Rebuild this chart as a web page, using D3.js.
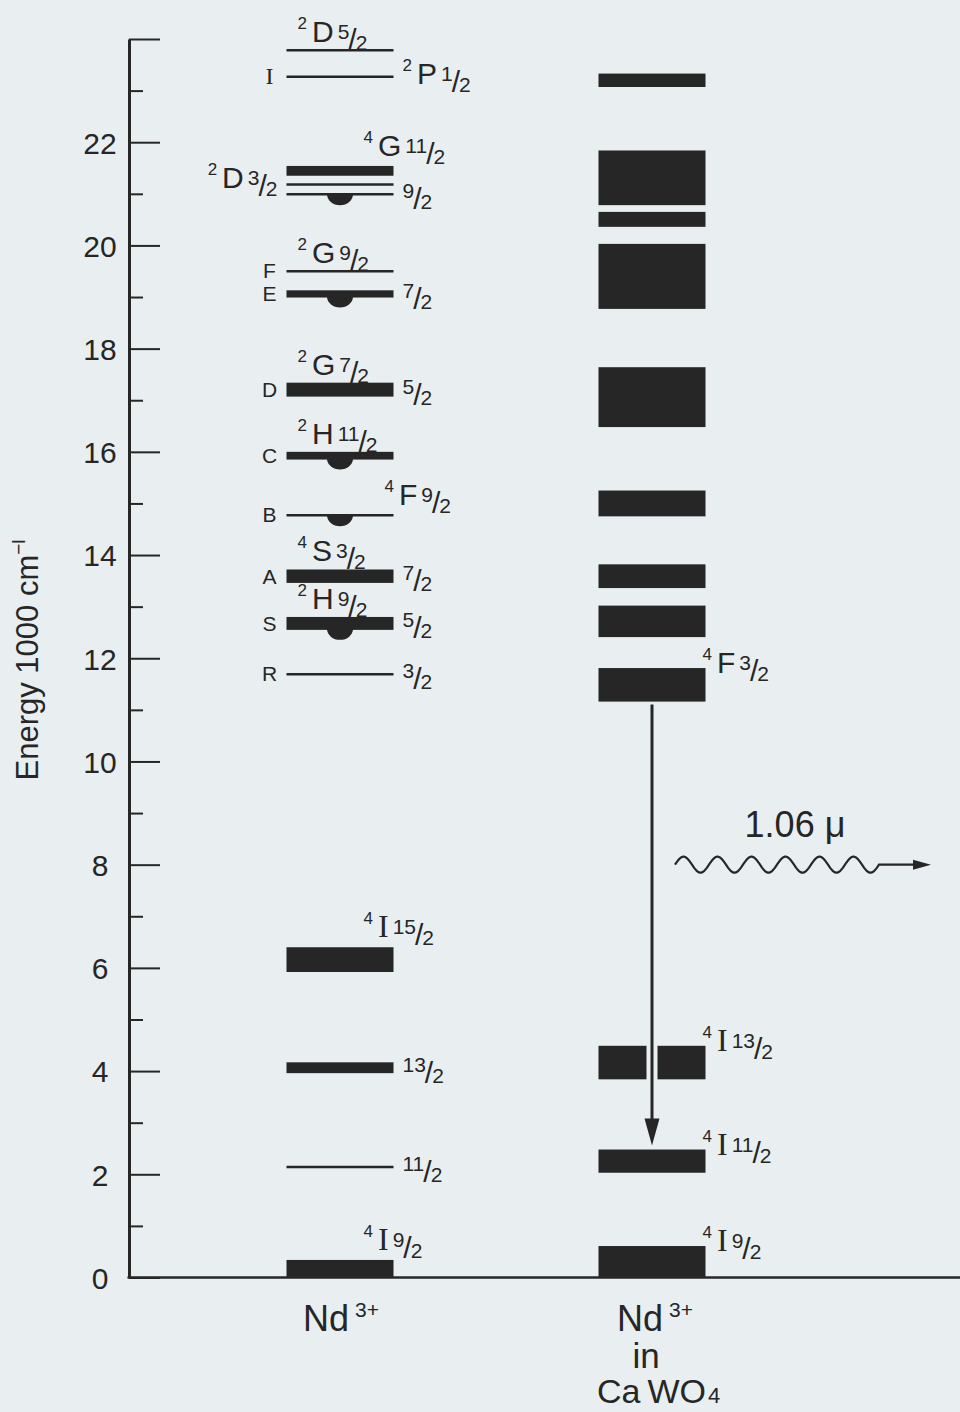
<!DOCTYPE html>
<html>
<head>
<meta charset="utf-8">
<script src="https://d3js.org/d3.v7.min.js"></script>
<style>
  body { margin: 0; background: #e9eff1; }
  text { font-family: "Liberation Sans", Arial, sans-serif; fill: #262626; }
</style>
</head>
<body>
<div id="chart"></div>
<script>
// the two columns of the diagram
var columns = ["Nd3+", "Nd3+ in CaWO4"];

// energy axis, 1000 cm-1
var yTicks = d3.range(0, 25);
var yTickLabels = ["0", "2", "4", "6", "8", "10", "12", "14", "16", "18", "20", "22"];

// free ion levels: low / high edge (1000 cm-1), low == high -> single line
var freeLow  = [23.78, 23.27, 21.35, 21.18, 20.99, 19.50, 18.99, 17.07, 15.85, 14.77, 13.46, 12.55, 11.69, 5.92, 3.96, 2.14, 0];
var freeHigh = [23.78, 23.27, 21.54, 21.18, 20.99, 19.50, 19.13, 17.34, 16.00, 14.77, 13.72, 12.80, 11.69, 6.40, 4.17, 2.14, 0.34];
// strong absorption bumps
var freeDip  = [0, 0, 0, 0, 1, 0, 1, 0, 1, 1, 0, 1, 0, 0, 0, 0, 0];
var freeLetter = ["", "I", "", "", "", "F", "E", "D", "C", "B", "A", "S", "R", "", "", "", ""];

// term labels: [level, multiplicity, L, J, placement]
var freeTerms = [
  [0, "2", "D", "5/2", "above"],
  [1, "2", "P", "1/2", "right"],
  [2, "4", "G", "11/2", "aboveRight"],
  [3, "2", "D", "3/2", "left"],
  [4, "", "", "9/2", "right"],
  [5, "2", "G", "9/2", "above"],
  [6, "", "", "7/2", "right"],
  [7, "2", "G", "7/2", "above"],
  [7, "", "", "5/2", "right"],
  [8, "2", "H", "11/2", "above"],
  [9, "4", "F", "9/2", "upRight"],
  [10, "4", "S", "3/2", "above"],
  [10, "", "", "7/2", "right"],
  [11, "2", "H", "9/2", "above"],
  [11, "", "", "5/2", "right"],
  [12, "", "", "3/2", "right"],
  [13, "4", "I", "15/2", "aboveRight"],
  [14, "", "", "13/2", "right"],
  [15, "", "", "11/2", "right"],
  [16, "4", "I", "9/2", "aboveRight"]
];

// Nd3+ in CaWO4 bands
var crystalLow  = [23.07, 20.78, 20.36, 18.77, 16.48, 14.75, 13.36, 12.41, 11.16, 3.84, 2.03, 0];
var crystalHigh = [23.33, 21.84, 20.65, 20.03, 17.64, 15.25, 13.82, 13.02, 11.81, 4.49, 2.48, 0.61];
var crystalTerms = [
  [8, "4", "F", "3/2", "rightTop"],
  [9, "4", "I", "13/2", "rightTop"],
  [10, "4", "I", "11/2", "rightTop"],
  [11, "4", "I", "9/2", "rightTop"]
];

// laser transition 4F3/2 -> 4I11/2
var laserFrom = 8, laserTo = 10, laserLabel = "1.06 \u03bc", laserWaveE = 8;

var W = 960, H = 1412, ink = "#262626";
var svg = d3.select("#chart").append("svg").attr("width", W).attr("height", H);
svg.append("rect").attr("width", W).attr("height", H).attr("fill", "#e9eff1");

var y = d3.scaleLinear().domain([0, 24]).range([1277.5, 39]);
var x = d3.scalePoint().domain(columns).range([340, 652]);
var half = 53.5;
var axisX = 129;

// y axis, ticks point to the right
var gAxis = svg.append("g")
  .attr("transform", "translate(" + axisX + ",0)")
  .call(d3.axisLeft(y).tickValues(yTicks).tickSize(-31).tickSizeOuter(0)
    .tickFormat(function(d) { return (d % 2 === 0 && d < 24) ? yTickLabels[d / 2] : ""; }));
gAxis.select(".domain").attr("stroke", ink).attr("stroke-width", 3);
gAxis.selectAll(".tick line")
  .attr("stroke", ink).attr("stroke-width", 2)
  .attr("x2", function(d) { return d % 2 ? 14 : 31; });
gAxis.selectAll(".tick text")
  .attr("x", 100 - axisX).attr("dy", "0.36em")
  .attr("text-anchor", "middle").attr("font-size", 30);

// baseline
svg.append("line")
  .attr("x1", axisX - 1.5).attr("x2", W)
  .attr("y1", y(0)).attr("y2", y(0))
  .attr("stroke", ink).attr("stroke-width", 2.5);

// axis title
var yTitle = svg.append("text")
  .attr("transform", "translate(38," + 660 + ") rotate(-90)")
  .attr("text-anchor", "middle").attr("font-size", 31);
yTitle.append("tspan").text("Energy  1000 cm");
yTitle.append("tspan").attr("font-size", 19).attr("dy", -13).text("\u2212l");

function drawLevels(col, lo, hi, gapFrom, gapTo) {
  var cx = x(col);
  var g = svg.append("g");
  lo.forEach(function(l, i) {
    var h = hi[i];
    if (h > l) {
      if (i > gapFrom && i < gapTo) {
        g.append("rect").attr("x", cx - half).attr("y", y(h))
          .attr("width", half - 5.5).attr("height", y(l) - y(h)).attr("fill", ink);
        g.append("rect").attr("x", cx + 5.5).attr("y", y(h))
          .attr("width", half - 5.5).attr("height", y(l) - y(h)).attr("fill", ink);
      } else {
        g.append("rect").attr("x", cx - half).attr("y", y(h))
          .attr("width", 2 * half).attr("height", y(l) - y(h)).attr("fill", ink);
      }
    } else {
      g.append("line").attr("x1", cx - half).attr("x2", cx + half)
        .attr("y1", y(l)).attr("y2", y(l))
        .attr("stroke", ink).attr("stroke-width", 2.5);
    }
  });
  return g;
}

function placeTerm(cx, lo, hi, place) {
  var x0 = cx - half, x1 = cx + half;
  var top = y(hi), bot = y(lo), mid = (top + bot) / 2;
  if (place === "above") return {x: x0 + 11, y: top - 8};
  if (place === "aboveRight") return {x: x1 - 30, y: top - 10};
  if (place === "upRight") return {x: x1 - 9, y: top - 10};
  if (place === "right") return {x: x1 + 9, y: mid + 7};
  if (place === "left") return {x: x0 - 9, y: mid + 3, anchor: "end"};
  return {x: x1 - 3, y: top + 5}; // rightTop
}

function term(g, p, sup, letter, j) {
  var t = g.append("text").attr("x", p.x).attr("y", p.y)
    .attr("text-anchor", p.anchor || "start");
  var cur = 0;
  function span(txt, size, base, dx, serif) {
    var s = t.append("tspan").attr("font-size", size).attr("dy", base - cur).text(txt);
    if (dx) s.attr("dx", dx);
    if (serif) s.style("font-family", "'Liberation Serif', 'DejaVu Serif', serif");
    cur = base;
  }
  if (sup) span(sup, 17, -13, 0);
  if (letter) span(letter, letter === "I" ? 32 : 30, 0, sup ? 5 : 0, letter === "I");
  if (j) {
    var parts = j.split("/");
    span(parts[0], 21, -3, letter ? 4 : 0);
    span("/", 30, 8, -1);
    span(parts[1], 21, 8, -1);
  }
}

// free ion
var gFree = drawLevels(columns[0], freeLow, freeHigh, -1, -1);
var cxFree = x(columns[0]);
freeDip.forEach(function(d, i) {
  if (!d) return;
  var yb = y(freeLow[i]) + (freeHigh[i] > freeLow[i] ? 0 : 1);
  gFree.append("path")
    .attr("d", "M" + (cxFree - 13) + "," + (yb - 1) + " A13,11 0 0 0 " + (cxFree + 13) + "," + (yb - 1) + "Z")
    .attr("fill", ink);
});
freeLetter.forEach(function(l, i) {
  if (!l) return;
  var thin = freeHigh[i] === freeLow[i];
  gFree.append("text")
    .attr("x", cxFree - half - 17)
    .attr("y", y((freeLow[i] + freeHigh[i]) / 2) - (thin ? 1 : 0))
    .attr("dy", "0.35em").attr("text-anchor", "middle")
    .attr("font-size", l === "I" ? 24 : 21)
    .style("font-family", l === "I" ? "'Liberation Serif', serif" : null)
    .text(l);
});
freeTerms.forEach(function(t) {
  term(gFree, placeTerm(cxFree, freeLow[t[0]], freeHigh[t[0]], t[4]), t[1], t[2], t[3]);
});

// crystal
var gCry = drawLevels(columns[1], crystalLow, crystalHigh, laserFrom, laserTo);
var cxCry = x(columns[1]);
crystalTerms.forEach(function(t) {
  term(gCry, placeTerm(cxCry, crystalLow[t[0]], crystalHigh[t[0]], t[4]), t[1], t[2], t[3]);
});

// laser arrow
var yStart = y(crystalLow[laserFrom]) + 3;
var yTip = y(crystalHigh[laserTo]) - 4;
svg.append("line").attr("x1", cxCry).attr("x2", cxCry)
  .attr("y1", yStart).attr("y2", yTip - 20)
  .attr("stroke", ink).attr("stroke-width", 3);
svg.append("path")
  .attr("d", "M" + (cxCry - 7.5) + "," + (yTip - 27) + "L" + (cxCry + 7.5) + "," + (yTip - 27) + "L" + cxCry + "," + yTip + "Z")
  .attr("fill", ink);

// emitted photon
var yw = y(laserWaveE), wx0 = cxCry + 23, lambda = 34, amp = 8;
var wave = d3.range(0, 6 * lambda + 0.5, 1).map(function(dx) {
  return [wx0 + dx, yw - amp * Math.sin(2 * Math.PI * dx / lambda)];
});
wave.push([wx0 + 6 * lambda + 34, yw]);
svg.append("path").attr("d", d3.line()(wave))
  .attr("fill", "none").attr("stroke", ink).attr("stroke-width", 2.2);
var tipX = wx0 + 6 * lambda + 52;
svg.append("path")
  .attr("d", "M" + (tipX - 18) + "," + (yw - 5) + "L" + tipX + "," + yw + "L" + (tipX - 18) + "," + (yw + 5) + "Z")
  .attr("fill", ink);
svg.append("text").attr("x", 795).attr("y", yw - 28)
  .attr("text-anchor", "middle").attr("font-size", 36).text(laserLabel);

// column labels
var base = y(0) + 53;
var l0 = svg.append("text").attr("x", cxFree - 37).attr("y", base).attr("font-size", 36);
l0.append("tspan").text("Nd");
l0.append("tspan").attr("font-size", 21).attr("dx", 6).attr("dy", -14).text("3+");

var l1 = svg.append("text").attr("x", cxCry - 35).attr("y", base).attr("font-size", 36);
l1.append("tspan").text("Nd");
l1.append("tspan").attr("font-size", 21).attr("dx", 6).attr("dy", -14).text("3+");
svg.append("text").attr("x", cxCry - 6).attr("y", base + 37)
  .attr("text-anchor", "middle").attr("font-size", 35).text("in");
var l2 = svg.append("text").attr("x", cxCry - 55).attr("y", base + 72).attr("font-size", 34);
l2.append("tspan").text("Ca");
l2.append("tspan").attr("dx", 7).text("WO");
l2.append("tspan").attr("font-size", 22).attr("dx", 2).text("4");
</script>
</body>
</html>
